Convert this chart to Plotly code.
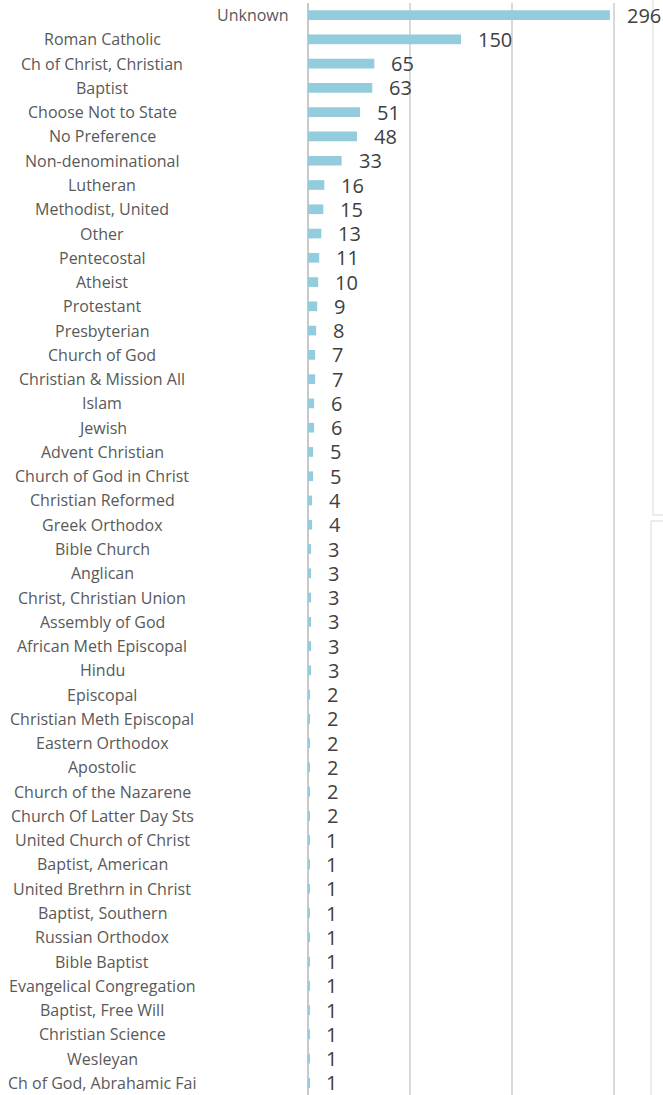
import plotly.graph_objects as go

categories = [
    "Unknown", "Roman Catholic", "Ch of Christ, Christian", "Baptist",
    "Choose Not to State", "No Preference", "Non-denominational", "Lutheran",
    "Methodist, United", "Other", "Pentecostal", "Atheist", "Protestant",
    "Presbyterian", "Church of God", "Christian & Mission All", "Islam",
    "Jewish", "Advent Christian", "Church of God in Christ",
    "Christian Reformed", "Greek Orthodox", "Bible Church", "Anglican",
    "Christ, Christian Union", "Assembly of God", "African Meth Episcopal",
    "Hindu", "Episcopal", "Christian Meth Episcopal", "Eastern Orthodox",
    "Apostolic", "Church of the Nazarene", "Church Of Latter Day Sts",
    "United Church of Christ", "Baptist, American", "United Brethrn in Christ",
    "Baptist, Southern", "Russian Orthodox", "Bible Baptist",
    "Evangelical Congregation", "Baptist, Free Will", "Christian Science",
    "Wesleyan", "Ch of God, Abrahamic Fai",
]
values = [
    296, 150, 65, 63, 51, 48, 33, 16, 15, 13, 11, 10, 9, 8, 7, 7, 6, 6, 5, 5,
    4, 4, 3, 3, 3, 3, 3, 3, 2, 2, 2, 2, 2, 2, 1, 1, 1, 1, 1, 1, 1, 1, 1, 1, 1,
]
x_ticks = [0, 100, 200, 300]

W, H = 663, 1095
ML, MR, MT, MB = 308, 0, 3, 0
pw, ph = W - ML - MR, H - MT - MB

def px_x(p):
    return (p - ML) / pw

def px_y(p):
    return 1 - (p - MT) / ph

fig = go.Figure()
fig.add_trace(go.Bar(
    x=values, y=categories, orientation="h",
    marker=dict(color="#93CDDD", line=dict(width=0)),
    width=0.4, hoverinfo="x+y",
))

annotations = []
for c, v in zip(categories, values):
    annotations.append(dict(
        x=v, y=c, xref="x", yref="y", text=str(v), showarrow=False,
        xanchor="left", yanchor="middle", xshift=15, yshift=0,
        font=dict(family="Open Sans", size=20, color="#404040"),
    ))
    if c == "Unknown":
        annotations.append(dict(
            x=px_x(291), y=c, xref="paper", yref="y", text=c, showarrow=False,
            xanchor="right", yanchor="middle", yshift=0,
            font=dict(family="Open Sans", size=16, color="#595959"),
        ))
    else:
        annotations.append(dict(
            x=px_x(102), y=c, xref="paper", yref="y", text=c, showarrow=False,
            xanchor="center", yanchor="middle", yshift=0,
            font=dict(family="Open Sans", size=16, color="#595959"),
        ))

shapes = [
    dict(type="line", xref="paper", yref="paper", x0=px_x(653), x1=px_x(653),
         y0=px_y(0), y1=px_y(515), line=dict(color="#d9d9d9", width=1)),
    dict(type="line", xref="paper", yref="paper", x0=px_x(653), x1=px_x(663),
         y0=px_y(515), y1=px_y(515), line=dict(color="#d9d9d9", width=1)),
    dict(type="line", xref="paper", yref="paper", x0=px_x(651), x1=px_x(651),
         y0=px_y(521), y1=px_y(1095), line=dict(color="#d9d9d9", width=1)),
    dict(type="line", xref="paper", yref="paper", x0=px_x(651), x1=px_x(663),
         y0=px_y(521), y1=px_y(521), line=dict(color="#d9d9d9", width=1)),
]

fig.update_layout(
    width=W, height=H,
    margin=dict(l=ML, r=MR, t=MT, b=MB, pad=0),
    paper_bgcolor="white", plot_bgcolor="white",
    showlegend=False,
    bargap=0.6,
    xaxis=dict(range=[0, 348], tickvals=x_ticks, showticklabels=False,
               showgrid=True, gridcolor="#d9d9d9", gridwidth=2,
               zeroline=True, zerolinecolor="#c8c8c8", zerolinewidth=2,
               fixedrange=True),
    yaxis=dict(categoryorder="array", categoryarray=categories,
               range=[len(categories) - 0.5, -0.5], autorange=False,
               showticklabels=False, showgrid=False,
               zeroline=False, fixedrange=True),
    annotations=annotations,
    shapes=shapes,
)

post_js = (
    "document.documentElement.style.margin='0';"
    "document.documentElement.style.overflow='hidden';"
    "document.body.style.margin='0';"
    "document.body.style.padding='0';"
    "document.body.style.overflow='hidden';"
)

fig.write_html("out.html", post_script=post_js, config={"displayModeBar": False})
